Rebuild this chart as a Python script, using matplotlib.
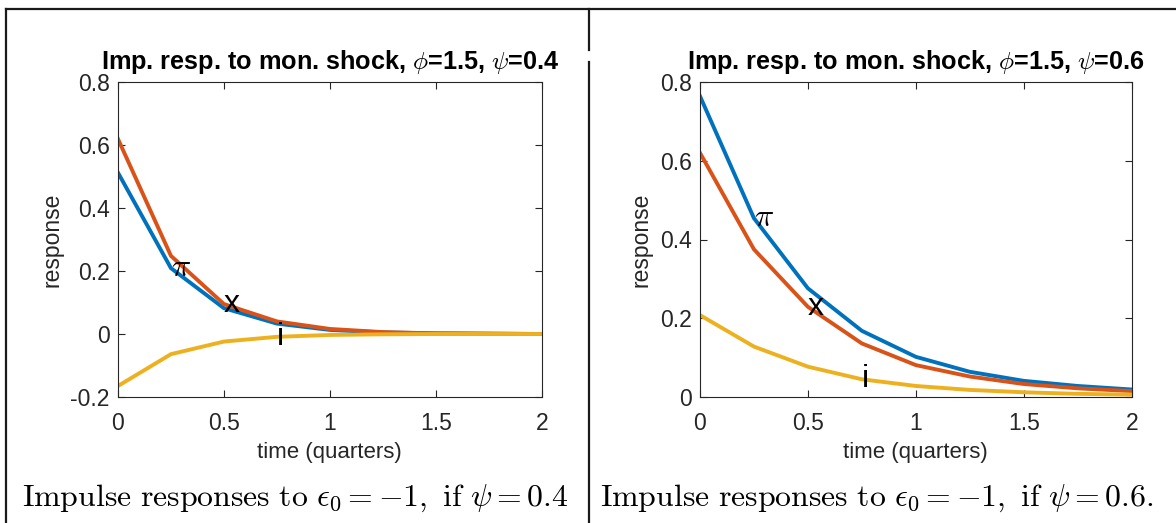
import matplotlib
matplotlib.use("Agg")
import matplotlib.pyplot as plt
from matplotlib.lines import Line2D

plt.rcParams['font.family'] = ['Liberation Sans', 'DejaVu Sans']
plt.rcParams['mathtext.fontset'] = 'cm'

t = [0, 0.25, 0.5, 0.75, 1, 1.25, 1.5, 1.75, 2]

# psi = 0.4
pi_a = [0.512, 0.209, 0.082, 0.033, 0.013, 0.005, 0.002, 0.001, 0.000]
x_a = [0.619, 0.248, 0.095, 0.040, 0.016, 0.006, 0.002, 0.001, 0.000]
i_a = [-0.165, -0.064, -0.024, -0.009, -0.003, -0.001, 0.000, 0.000, 0.000]

# psi = 0.6
pi_b = [0.764, 0.454, 0.276, 0.168, 0.102, 0.064, 0.041, 0.028, 0.019]
x_b = [0.620, 0.375, 0.229, 0.136, 0.081, 0.052, 0.033, 0.022, 0.015]
i_b = [0.208, 0.128, 0.077, 0.045, 0.028, 0.018, 0.012, 0.008, 0.006]

x_ticks = [0, 0.5, 1, 1.5, 2]
x_ticklabels = ['0', '0.5', '1', '1.5', '2']
yticks_a = [-0.2, 0, 0.2, 0.4, 0.6, 0.8]
yticklabels_a = ['-0.2', '0', '0.2', '0.4', '0.6', '0.8']
yticks_b = [0, 0.2, 0.4, 0.6, 0.8]
yticklabels_b = ['0', '0.2', '0.4', '0.6', '0.8']

colors = ['#0072BD', '#D95319', '#EDB120']
axis_gray = '#262626'


def draw_panel(ax, pi_s, x_s, i_s, psi, yticks, yticklabels):
    for s, c in zip([pi_s, x_s, i_s], colors):
        ax.plot(t, s, color=c, lw=2.8, solid_joinstyle='miter')
    ax.text(t[1], pi_s[1], r'$\pi$', fontsize=23, ha='left', va='center')
    ax.text(t[2], x_s[2], 'x', fontsize=23, ha='left', va='center')
    ax.text(t[3], i_s[3], 'i', fontsize=23, ha='left', va='center')
    ax.set_xlim(0, 2)
    ax.set_ylim(yticks[0], yticks[-1])
    ax.set_xticks(x_ticks)
    ax.set_xticklabels(x_ticklabels)
    ax.set_yticks(yticks)
    ax.set_yticklabels(yticklabels)
    ax.tick_params(direction='in', length=5, width=0.8, top=True, right=True,
                   labelsize=16.5, colors=axis_gray)
    ax.tick_params(axis='x', pad=11)
    ax.tick_params(axis='y', pad=6)
    for sp in ax.spines.values():
        sp.set_color(axis_gray)
        sp.set_linewidth(0.8)
    ax.set_xlabel('time (quarters)', fontsize=16, color=axis_gray, labelpad=5)
    ax.set_ylabel('response', fontsize=16.5, color=axis_gray, labelpad=5)
    ax.set_title(r'Imp. resp. to mon. shock, $\phi$=1.5, $\psi$=' + psi,
                 fontsize=18.2, fontweight='bold', pad=9)


fig = plt.figure(figsize=(11.76, 5.23), dpi=100)
W, H = 1176, 523

ax1 = fig.add_axes([118 / W, 1 - 397 / H, 423.7 / W, 315 / H])
ax2 = fig.add_axes([700 / W, 1 - 397 / H, 431.7 / W, 315 / H])

draw_panel(ax1, pi_a, x_a, i_a, '0.4', yticks_a, yticklabels_a)
draw_panel(ax2, pi_b, x_b, i_b, '0.6', yticks_b, yticklabels_b)

caption = r'$\mathrm{Impulse\ responses\ to\ }\epsilon_0=-1\mathrm{,\ if\ }\psi=%s$'
fig.text(22 / W, 1 - 498 / H, caption % '0.4', fontsize=22.9, va='center', ha='left')
fig.text(600 / W, 1 - 498 / H, caption % '0.6.', fontsize=22.9, va='center', ha='left')

# table rules
rules = [
    ([6, W], [9, 9]),
    ([6, 6], [9, H]),
    ([589, 589], [9, 50]),
    ([589, 589], [62, H]),
]
for xs, ys in rules:
    fig.add_artist(Line2D([v / W for v in xs], [1 - v / H for v in ys],
                          transform=fig.transFigure, color='#1a1a1a', lw=1.6))

fig.savefig('out.png', dpi=100)
